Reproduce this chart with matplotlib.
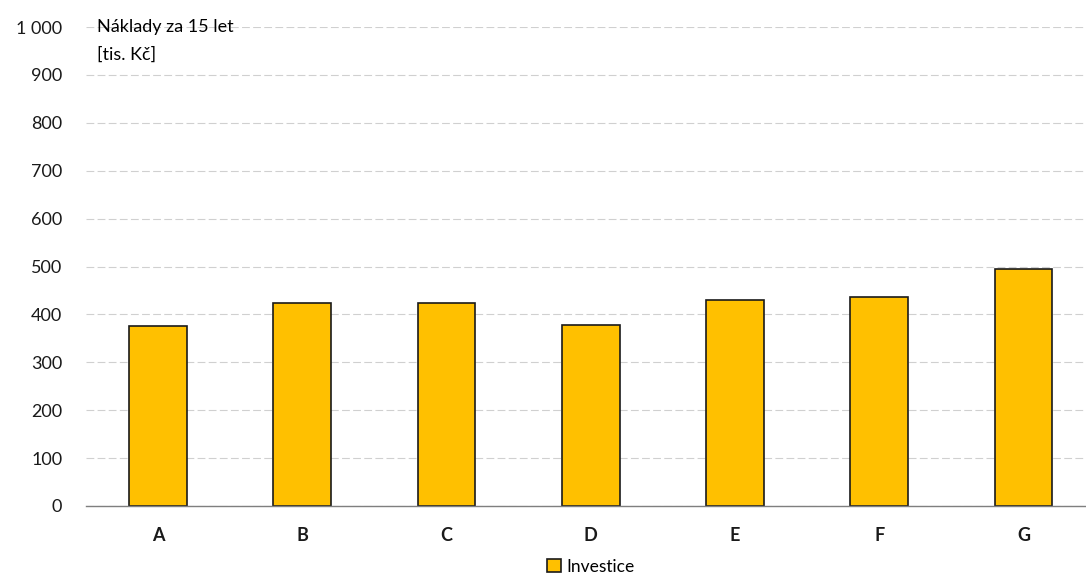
import matplotlib.pyplot as plt
from matplotlib.ticker import FuncFormatter

# data
categories = ['A', 'B', 'C', 'D', 'E', 'F', 'G']
investice = [375, 424, 424, 378, 430, 436, 495]

plt.rcParams['font.family'] = ['Lato', 'DejaVu Sans']

fig = plt.figure(figsize=(10.86, 5.75), dpi=100)
ax = fig.add_axes([0.079, 0.12, 0.93, 0.833])

ax.bar(categories, investice, width=0.4, color='#FFC000', edgecolor='#1a1a1a',
       linewidth=1.2, label='Investice', zorder=3)

ax.set_ylim(0, 1000)
ax.set_xlim(-0.5, 6.5)
ax.set_yticks(range(0, 1001, 100))
ax.yaxis.set_major_formatter(FuncFormatter(lambda v, p: f'{int(v):,}'.replace(',', ' ')))
ax.grid(axis='y', color='#d0d0d0', linestyle=(0, (7, 3)), linewidth=0.8)
ax.set_axisbelow(True)

for s in ['top', 'right', 'left']:
    ax.spines[s].set_visible(False)
ax.spines['bottom'].set_color('#7f7f7f')
ax.spines['bottom'].set_linewidth(1.0)
ax.spines['bottom'].set_zorder(4)
ax.tick_params(axis='both', length=0, labelsize=13, colors='#1a1a1a')
ax.tick_params(axis='y', pad=17)
ax.tick_params(axis='x', pad=15)
for lbl in ax.get_xticklabels():
    lbl.set_fontweight('bold')

# axis title in the top left corner
ax.text(0.011, 1000, 'Náklady za 15 let', transform=ax.get_yaxis_transform(),
        fontsize=13, va='center', ha='left')
ax.text(0.011, 942, '[tis. Kč]', transform=ax.get_yaxis_transform(),
        fontsize=13, va='center', ha='left')

ax.legend(loc='upper center', bbox_to_anchor=(0.5, -0.085), frameon=False,
          fontsize=12.5, handlelength=0.8, handleheight=0.8, handletextpad=0.3,
          borderpad=0.2)

plt.savefig('out.png', dpi=100)
